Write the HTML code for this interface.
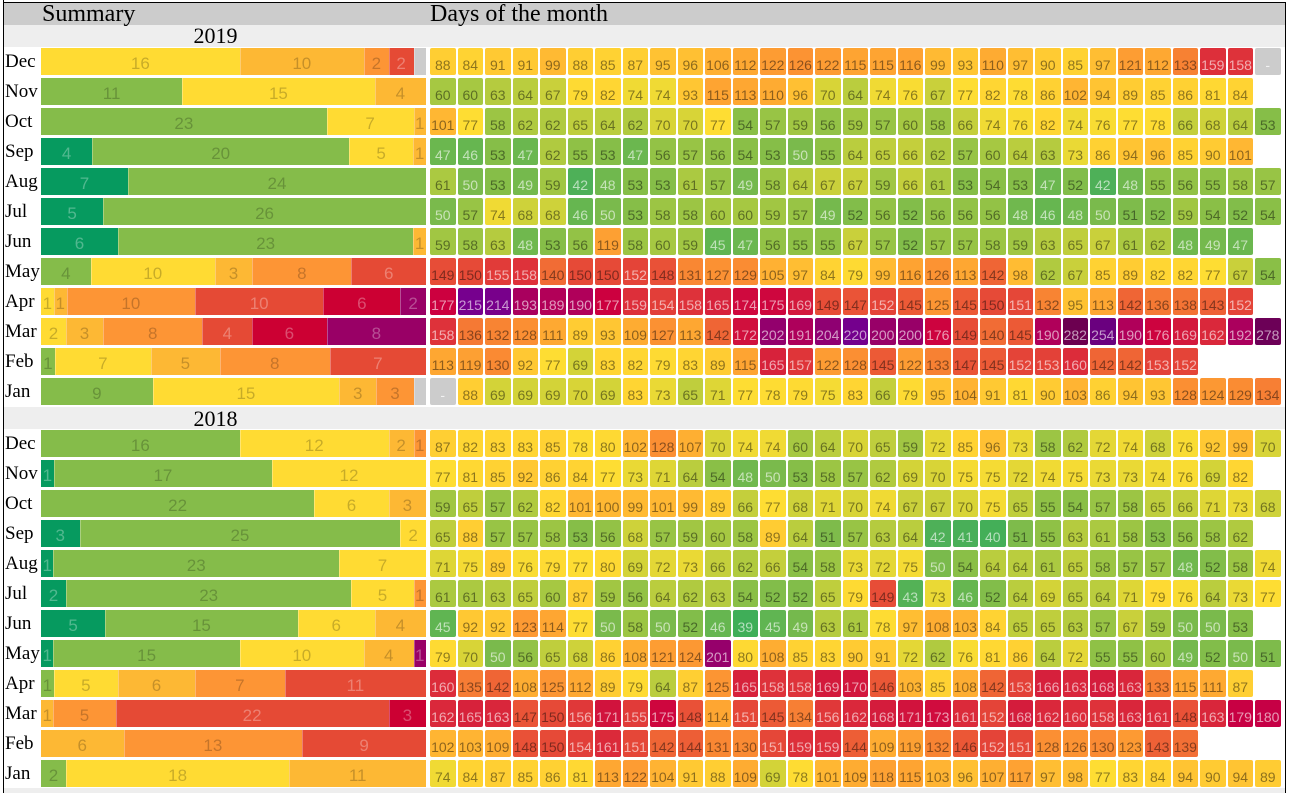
<!DOCTYPE html>
<html><head><meta charset="utf-8">
<style>
html,body{margin:0;padding:0;background:#fff}
body{width:1290px;height:793px;position:relative;overflow:hidden;font-family:"Liberation Sans",sans-serif}
.hd{position:absolute;left:4px;top:3px;width:1281px;height:22px;background:#ccc}
.yb{position:absolute;left:4px;width:1281px;height:22px;background:#eee}
.bl{position:absolute;background:#000}
.t{position:absolute;font-family:"Liberation Serif",serif;color:#000;white-space:nowrap}
.h{font-size:24px;line-height:28px;top:0}
.yr{left:0;width:431px;text-align:center;font-size:22px;line-height:22px}
.m{position:absolute;left:5px;font:19px/27px "Liberation Serif",serif;color:#000}
.s{position:absolute;left:41px;width:385px;height:27px;display:flex}
.s b{flex-basis:0;flex-shrink:0;font:17px/32px "Liberation Sans",sans-serif;text-align:center;color:rgba(0,0,0,.22);overflow:hidden;height:27px;font-weight:normal;box-shadow:inset 1px 0 0 rgba(255,255,255,.3)}
.s b:first-child{box-shadow:none}
.dg{background:#069a5f;color:rgba(255,255,255,.3)!important}
.g{background:#85bc4a}
.y{background:#ffdb33}
.lo{background:#fdb834}
.o{background:#fd9535}
.r{background:#e54a35;color:rgba(255,255,255,.3)!important}
.c{background:#cc0033;color:rgba(255,255,255,.3)!important}
.p{background:#990066;color:rgba(255,255,255,.3)!important}
.x{background:#ccc}
.d{position:absolute;left:430px;height:27px;display:flex}
.d i{flex:none;font-style:normal;width:25.5px;margin-right:2px;height:27px;border-radius:2px;font:14px/34px "Liberation Sans",sans-serif;text-align:center;overflow:hidden;color:rgba(0,0,0,.45)}
</style></head><body>
<div class="hd"></div>
<div class="yb" style="top:25px"></div>
<div class="yb" style="top:407px"></div>
<div class="yb" style="top:788px;height:5px"></div>
<div class="bl" style="left:3px;top:2px;width:1283px;height:1px"></div>
<div class="bl" style="left:3px;top:0;width:1px;height:793px"></div>
<div class="bl" style="left:1285px;top:2px;width:1px;height:791px"></div>
<div class="t h" style="left:42px">Summary</div>
<div class="t h" style="left:430px">Days of the month</div>
<div class="t yr" style="top:25px">2019</div>
<div class="t yr" style="top:408px">2018</div>

<!-- 2019 -->
<div class="m" style="top:48px">Dec</div>
<div class="s" style="top:48px"><b class="y" style="flex-grow:16">16</b><b class="lo" style="flex-grow:10">10</b><b class="o" style="flex-grow:2">2</b><b class="r" style="flex-grow:2">2</b><b class="x" style="flex-grow:1"></b></div>
<div class="d" style="top:48px"><i>88</i><i>84</i><i>91</i><i>91</i><i>99</i><i>88</i><i>85</i><i>87</i><i>95</i><i>96</i><i>106</i><i>112</i><i>122</i><i>126</i><i>122</i><i>115</i><i>115</i><i>116</i><i>99</i><i>93</i><i>110</i><i>97</i><i>90</i><i>85</i><i>97</i><i>121</i><i>112</i><i>133</i><i>159</i><i>158</i><i>-</i></div>

<div class="m" style="top:78px">Nov</div>
<div class="s" style="top:78px"><b class="g" style="flex-grow:11">11</b><b class="y" style="flex-grow:15">15</b><b class="lo" style="flex-grow:4">4</b></div>
<div class="d" style="top:78px"><i>60</i><i>60</i><i>63</i><i>64</i><i>67</i><i>79</i><i>82</i><i>74</i><i>74</i><i>93</i><i>115</i><i>113</i><i>110</i><i>96</i><i>70</i><i>64</i><i>74</i><i>76</i><i>67</i><i>77</i><i>82</i><i>78</i><i>86</i><i>102</i><i>94</i><i>89</i><i>85</i><i>86</i><i>81</i><i>84</i></div>

<div class="m" style="top:108px">Oct</div>
<div class="s" style="top:108px"><b class="g" style="flex-grow:23">23</b><b class="y" style="flex-grow:7">7</b><b class="lo" style="flex-grow:1">1</b></div>
<div class="d" style="top:108px"><i>101</i><i>77</i><i>58</i><i>62</i><i>62</i><i>65</i><i>64</i><i>62</i><i>70</i><i>70</i><i>77</i><i>54</i><i>57</i><i>59</i><i>56</i><i>59</i><i>57</i><i>60</i><i>58</i><i>66</i><i>74</i><i>76</i><i>82</i><i>74</i><i>76</i><i>77</i><i>78</i><i>66</i><i>68</i><i>64</i><i>53</i></div>

<div class="m" style="top:138px">Sep</div>
<div class="s" style="top:138px"><b class="dg" style="flex-grow:4">4</b><b class="g" style="flex-grow:20">20</b><b class="y" style="flex-grow:5">5</b><b class="lo" style="flex-grow:1">1</b></div>
<div class="d" style="top:138px"><i>47</i><i>46</i><i>53</i><i>47</i><i>62</i><i>55</i><i>53</i><i>47</i><i>56</i><i>57</i><i>56</i><i>54</i><i>53</i><i>50</i><i>55</i><i>64</i><i>65</i><i>66</i><i>62</i><i>57</i><i>60</i><i>64</i><i>63</i><i>73</i><i>86</i><i>94</i><i>96</i><i>85</i><i>90</i><i>101</i></div>

<div class="m" style="top:168px">Aug</div>
<div class="s" style="top:168px"><b class="dg" style="flex-grow:7">7</b><b class="g" style="flex-grow:24">24</b></div>
<div class="d" style="top:168px"><i>61</i><i>50</i><i>53</i><i>49</i><i>59</i><i>42</i><i>48</i><i>53</i><i>53</i><i>61</i><i>57</i><i>49</i><i>58</i><i>64</i><i>67</i><i>67</i><i>59</i><i>66</i><i>61</i><i>53</i><i>54</i><i>53</i><i>47</i><i>52</i><i>42</i><i>48</i><i>55</i><i>56</i><i>55</i><i>58</i><i>57</i></div>

<div class="m" style="top:198px">Jul</div>
<div class="s" style="top:198px"><b class="dg" style="flex-grow:5">5</b><b class="g" style="flex-grow:26">26</b></div>
<div class="d" style="top:198px"><i>50</i><i>57</i><i>74</i><i>68</i><i>68</i><i>46</i><i>50</i><i>53</i><i>58</i><i>58</i><i>60</i><i>60</i><i>59</i><i>57</i><i>49</i><i>52</i><i>56</i><i>52</i><i>56</i><i>56</i><i>56</i><i>48</i><i>46</i><i>48</i><i>50</i><i>51</i><i>52</i><i>59</i><i>54</i><i>52</i><i>54</i></div>

<div class="m" style="top:228px">Jun</div>
<div class="s" style="top:228px"><b class="dg" style="flex-grow:6">6</b><b class="g" style="flex-grow:23">23</b><b class="lo" style="flex-grow:1">1</b></div>
<div class="d" style="top:228px"><i>59</i><i>58</i><i>63</i><i>48</i><i>53</i><i>56</i><i>119</i><i>58</i><i>60</i><i>59</i><i>45</i><i>47</i><i>56</i><i>55</i><i>55</i><i>67</i><i>57</i><i>52</i><i>57</i><i>57</i><i>58</i><i>59</i><i>63</i><i>65</i><i>67</i><i>61</i><i>62</i><i>48</i><i>49</i><i>47</i></div>

<div class="m" style="top:258px">May</div>
<div class="s" style="top:258px"><b class="g" style="flex-grow:4">4</b><b class="y" style="flex-grow:10">10</b><b class="lo" style="flex-grow:3">3</b><b class="o" style="flex-grow:8">8</b><b class="r" style="flex-grow:6">6</b></div>
<div class="d" style="top:258px"><i>149</i><i>150</i><i>155</i><i>158</i><i>140</i><i>150</i><i>150</i><i>152</i><i>148</i><i>131</i><i>127</i><i>129</i><i>105</i><i>97</i><i>84</i><i>79</i><i>99</i><i>116</i><i>126</i><i>113</i><i>142</i><i>98</i><i>62</i><i>67</i><i>85</i><i>89</i><i>82</i><i>82</i><i>77</i><i>67</i><i>54</i></div>

<div class="m" style="top:288px">Apr</div>
<div class="s" style="top:288px"><b class="y" style="flex-grow:1">1</b><b class="lo" style="flex-grow:1">1</b><b class="o" style="flex-grow:10">10</b><b class="r" style="flex-grow:10">10</b><b class="c" style="flex-grow:6">6</b><b class="p" style="flex-grow:2">2</b></div>
<div class="d" style="top:288px"><i>177</i><i>215</i><i>214</i><i>193</i><i>189</i><i>190</i><i>177</i><i>159</i><i>154</i><i>158</i><i>165</i><i>174</i><i>175</i><i>169</i><i>149</i><i>147</i><i>152</i><i>145</i><i>125</i><i>145</i><i>150</i><i>151</i><i>132</i><i>95</i><i>113</i><i>142</i><i>136</i><i>138</i><i>143</i><i>152</i></div>

<div class="m" style="top:318px">Mar</div>
<div class="s" style="top:318px"><b class="y" style="flex-grow:2">2</b><b class="lo" style="flex-grow:3">3</b><b class="o" style="flex-grow:8">8</b><b class="r" style="flex-grow:4">4</b><b class="c" style="flex-grow:6">6</b><b class="p" style="flex-grow:8">8</b></div>
<div class="d" style="top:318px"><i>158</i><i>136</i><i>132</i><i>128</i><i>111</i><i>89</i><i>93</i><i>109</i><i>127</i><i>113</i><i>142</i><i>172</i><i>202</i><i>191</i><i>204</i><i>220</i><i>200</i><i>200</i><i>176</i><i>149</i><i>140</i><i>145</i><i>190</i><i>282</i><i>254</i><i>190</i><i>176</i><i>169</i><i>162</i><i>192</i><i>278</i></div>

<div class="m" style="top:348px">Feb</div>
<div class="s" style="top:348px"><b class="g" style="flex-grow:1">1</b><b class="y" style="flex-grow:7">7</b><b class="lo" style="flex-grow:5">5</b><b class="o" style="flex-grow:8">8</b><b class="r" style="flex-grow:7">7</b></div>
<div class="d" style="top:348px"><i>113</i><i>119</i><i>130</i><i>92</i><i>77</i><i>69</i><i>83</i><i>82</i><i>79</i><i>83</i><i>89</i><i>115</i><i>165</i><i>157</i><i>122</i><i>128</i><i>145</i><i>122</i><i>133</i><i>147</i><i>145</i><i>152</i><i>153</i><i>160</i><i>142</i><i>142</i><i>153</i><i>152</i></div>

<div class="m" style="top:378px">Jan</div>
<div class="s" style="top:378px"><b class="g" style="flex-grow:9">9</b><b class="y" style="flex-grow:15">15</b><b class="lo" style="flex-grow:3">3</b><b class="o" style="flex-grow:3">3</b><b class="x" style="flex-grow:1"></b></div>
<div class="d" style="top:378px"><i>-</i><i>88</i><i>69</i><i>69</i><i>69</i><i>70</i><i>69</i><i>83</i><i>73</i><i>65</i><i>71</i><i>77</i><i>78</i><i>79</i><i>75</i><i>83</i><i>66</i><i>79</i><i>95</i><i>104</i><i>91</i><i>81</i><i>90</i><i>103</i><i>86</i><i>94</i><i>93</i><i>128</i><i>124</i><i>129</i><i>134</i></div>

<!-- 2018 -->
<div class="m" style="top:430px">Dec</div>
<div class="s" style="top:430px"><b class="g" style="flex-grow:16">16</b><b class="y" style="flex-grow:12">12</b><b class="lo" style="flex-grow:2">2</b><b class="o" style="flex-grow:1">1</b></div>
<div class="d" style="top:430px"><i>87</i><i>82</i><i>83</i><i>83</i><i>85</i><i>78</i><i>80</i><i>102</i><i>128</i><i>107</i><i>70</i><i>74</i><i>74</i><i>60</i><i>64</i><i>70</i><i>65</i><i>59</i><i>72</i><i>85</i><i>96</i><i>73</i><i>58</i><i>62</i><i>72</i><i>74</i><i>68</i><i>76</i><i>92</i><i>99</i><i>70</i></div>

<div class="m" style="top:460px">Nov</div>
<div class="s" style="top:460px"><b class="dg" style="flex-grow:1">1</b><b class="g" style="flex-grow:17">17</b><b class="y" style="flex-grow:12">12</b></div>
<div class="d" style="top:460px"><i>77</i><i>81</i><i>85</i><i>92</i><i>86</i><i>84</i><i>77</i><i>73</i><i>71</i><i>64</i><i>54</i><i>48</i><i>50</i><i>53</i><i>58</i><i>57</i><i>62</i><i>69</i><i>70</i><i>75</i><i>75</i><i>72</i><i>74</i><i>75</i><i>73</i><i>73</i><i>74</i><i>76</i><i>69</i><i>82</i></div>

<div class="m" style="top:490px">Oct</div>
<div class="s" style="top:490px"><b class="g" style="flex-grow:22">22</b><b class="y" style="flex-grow:6">6</b><b class="lo" style="flex-grow:3">3</b></div>
<div class="d" style="top:490px"><i>59</i><i>65</i><i>57</i><i>62</i><i>82</i><i>101</i><i>100</i><i>99</i><i>101</i><i>99</i><i>89</i><i>66</i><i>77</i><i>68</i><i>71</i><i>70</i><i>74</i><i>67</i><i>67</i><i>70</i><i>75</i><i>65</i><i>55</i><i>54</i><i>57</i><i>58</i><i>65</i><i>66</i><i>71</i><i>73</i><i>68</i></div>

<div class="m" style="top:520px">Sep</div>
<div class="s" style="top:520px"><b class="dg" style="flex-grow:3">3</b><b class="g" style="flex-grow:25">25</b><b class="y" style="flex-grow:2">2</b></div>
<div class="d" style="top:520px"><i>65</i><i>88</i><i>57</i><i>57</i><i>58</i><i>53</i><i>56</i><i>68</i><i>57</i><i>59</i><i>60</i><i>58</i><i>89</i><i>64</i><i>51</i><i>57</i><i>63</i><i>64</i><i>42</i><i>41</i><i>40</i><i>51</i><i>55</i><i>63</i><i>61</i><i>58</i><i>53</i><i>56</i><i>58</i><i>62</i></div>

<div class="m" style="top:550px">Aug</div>
<div class="s" style="top:550px"><b class="dg" style="flex-grow:1">1</b><b class="g" style="flex-grow:23">23</b><b class="y" style="flex-grow:7">7</b></div>
<div class="d" style="top:550px"><i>71</i><i>75</i><i>89</i><i>76</i><i>79</i><i>77</i><i>80</i><i>69</i><i>72</i><i>73</i><i>66</i><i>62</i><i>66</i><i>54</i><i>58</i><i>73</i><i>72</i><i>75</i><i>50</i><i>54</i><i>64</i><i>64</i><i>61</i><i>65</i><i>58</i><i>57</i><i>57</i><i>48</i><i>52</i><i>58</i><i>74</i></div>

<div class="m" style="top:580px">Jul</div>
<div class="s" style="top:580px"><b class="dg" style="flex-grow:2">2</b><b class="g" style="flex-grow:23">23</b><b class="y" style="flex-grow:5">5</b><b class="o" style="flex-grow:1">1</b></div>
<div class="d" style="top:580px"><i>61</i><i>61</i><i>63</i><i>65</i><i>60</i><i>87</i><i>59</i><i>56</i><i>64</i><i>62</i><i>63</i><i>54</i><i>52</i><i>52</i><i>65</i><i>79</i><i>149</i><i>43</i><i>73</i><i>46</i><i>52</i><i>64</i><i>69</i><i>65</i><i>64</i><i>71</i><i>79</i><i>76</i><i>64</i><i>73</i><i>77</i></div>

<div class="m" style="top:610px">Jun</div>
<div class="s" style="top:610px"><b class="dg" style="flex-grow:5">5</b><b class="g" style="flex-grow:15">15</b><b class="y" style="flex-grow:6">6</b><b class="lo" style="flex-grow:4">4</b></div>
<div class="d" style="top:610px"><i>45</i><i>92</i><i>92</i><i>123</i><i>114</i><i>77</i><i>50</i><i>58</i><i>50</i><i>52</i><i>46</i><i>39</i><i>45</i><i>49</i><i>63</i><i>61</i><i>78</i><i>97</i><i>108</i><i>103</i><i>84</i><i>65</i><i>65</i><i>63</i><i>57</i><i>67</i><i>59</i><i>50</i><i>50</i><i>53</i></div>

<div class="m" style="top:640px">May</div>
<div class="s" style="top:640px"><b class="dg" style="flex-grow:1">1</b><b class="g" style="flex-grow:15">15</b><b class="y" style="flex-grow:10">10</b><b class="lo" style="flex-grow:4">4</b><b class="p" style="flex-grow:1">1</b></div>
<div class="d" style="top:640px"><i>79</i><i>70</i><i>50</i><i>56</i><i>65</i><i>68</i><i>86</i><i>108</i><i>121</i><i>124</i><i>201</i><i>80</i><i>108</i><i>85</i><i>83</i><i>90</i><i>91</i><i>72</i><i>62</i><i>76</i><i>81</i><i>86</i><i>64</i><i>72</i><i>55</i><i>55</i><i>60</i><i>49</i><i>52</i><i>50</i><i>51</i></div>

<div class="m" style="top:670px">Apr</div>
<div class="s" style="top:670px"><b class="g" style="flex-grow:1">1</b><b class="y" style="flex-grow:5">5</b><b class="lo" style="flex-grow:6">6</b><b class="o" style="flex-grow:7">7</b><b class="r" style="flex-grow:11">11</b></div>
<div class="d" style="top:670px"><i>160</i><i>135</i><i>142</i><i>108</i><i>125</i><i>112</i><i>89</i><i>79</i><i>64</i><i>87</i><i>125</i><i>165</i><i>158</i><i>158</i><i>169</i><i>170</i><i>146</i><i>103</i><i>85</i><i>108</i><i>142</i><i>153</i><i>166</i><i>163</i><i>168</i><i>163</i><i>133</i><i>115</i><i>111</i><i>87</i></div>

<div class="m" style="top:700px">Mar</div>
<div class="s" style="top:700px"><b class="lo" style="flex-grow:1">1</b><b class="o" style="flex-grow:5">5</b><b class="r" style="flex-grow:22">22</b><b class="c" style="flex-grow:3">3</b></div>
<div class="d" style="top:700px"><i>162</i><i>165</i><i>163</i><i>147</i><i>150</i><i>156</i><i>171</i><i>155</i><i>175</i><i>148</i><i>114</i><i>151</i><i>145</i><i>134</i><i>156</i><i>162</i><i>168</i><i>171</i><i>173</i><i>161</i><i>152</i><i>168</i><i>162</i><i>160</i><i>158</i><i>163</i><i>161</i><i>148</i><i>163</i><i>179</i><i>180</i></div>

<div class="m" style="top:730px">Feb</div>
<div class="s" style="top:730px"><b class="lo" style="flex-grow:6">6</b><b class="o" style="flex-grow:13">13</b><b class="r" style="flex-grow:9">9</b></div>
<div class="d" style="top:730px"><i>102</i><i>103</i><i>109</i><i>148</i><i>150</i><i>154</i><i>161</i><i>151</i><i>142</i><i>144</i><i>131</i><i>130</i><i>151</i><i>159</i><i>159</i><i>144</i><i>109</i><i>119</i><i>132</i><i>146</i><i>152</i><i>151</i><i>128</i><i>126</i><i>130</i><i>123</i><i>143</i><i>139</i></div>

<div class="m" style="top:760px">Jan</div>
<div class="s" style="top:760px"><b class="g" style="flex-grow:2">2</b><b class="y" style="flex-grow:18">18</b><b class="lo" style="flex-grow:11">11</b></div>
<div class="d" style="top:760px"><i>74</i><i>84</i><i>87</i><i>85</i><i>86</i><i>81</i><i>113</i><i>122</i><i>104</i><i>91</i><i>88</i><i>109</i><i>69</i><i>78</i><i>101</i><i>109</i><i>118</i><i>115</i><i>103</i><i>96</i><i>107</i><i>117</i><i>97</i><i>98</i><i>77</i><i>83</i><i>84</i><i>94</i><i>90</i><i>94</i><i>89</i></div>

<script>
(function(){
var S=[[39,'#3fae58'],[42,'#4eb058'],[46,'#66b650'],[50,'#7aba4c'],[54,'#8abf47'],[58,'#9cc544'],[62,'#b0ca40'],[66,'#c4cf3c'],[70,'#d8d437'],[74,'#f0da34'],[77,'#fedd33'],[85,'#ffd233'],[92,'#ffc833'],[100,'#ffb833'],[112,'#fea832'],[122,'#fd9c33'],[130,'#fa8a33'],[137,'#f47634'],[145,'#ec5a36'],[152,'#e44438'],[160,'#dc2c3a'],[168,'#d41c3c'],[177,'#cc003f'],[190,'#b0005a'],[200,'#980068'],[215,'#76008e'],[250,'#6a0086'],[282,'#6c0050']];
function h(c){return [parseInt(c.substr(1,2),16),parseInt(c.substr(3,2),16),parseInt(c.substr(5,2),16)];}
function col(v){
 if(v<=S[0][0])return S[0][1];
 for(var i=1;i<S.length;i++){
  if(v<=S[i][0]){
   var a=h(S[i-1][1]),b=h(S[i][1]),t=(v-S[i-1][0])/(S[i][0]-S[i-1][0]);
   return 'rgb('+Math.round(a[0]+(b[0]-a[0])*t)+','+Math.round(a[1]+(b[1]-a[1])*t)+','+Math.round(a[2]+(b[2]-a[2])*t)+')';
  }
 }
 return S[S.length-1][1];
}
var els=document.querySelectorAll('.d i');
for(var k=0;k<els.length;k++){
 var e=els[k],t=e.textContent;
 if(t==='-'){e.style.background='#cccccc';e.style.color='rgba(255,255,255,.75)';continue;}
 var v=+t;
 e.style.background=col(v);
 e.style.color=(v<=50||v>150)?'rgba(255,255,255,.6)':'rgba(0,0,0,.45)';
}
})();
</script>
</body></html>
